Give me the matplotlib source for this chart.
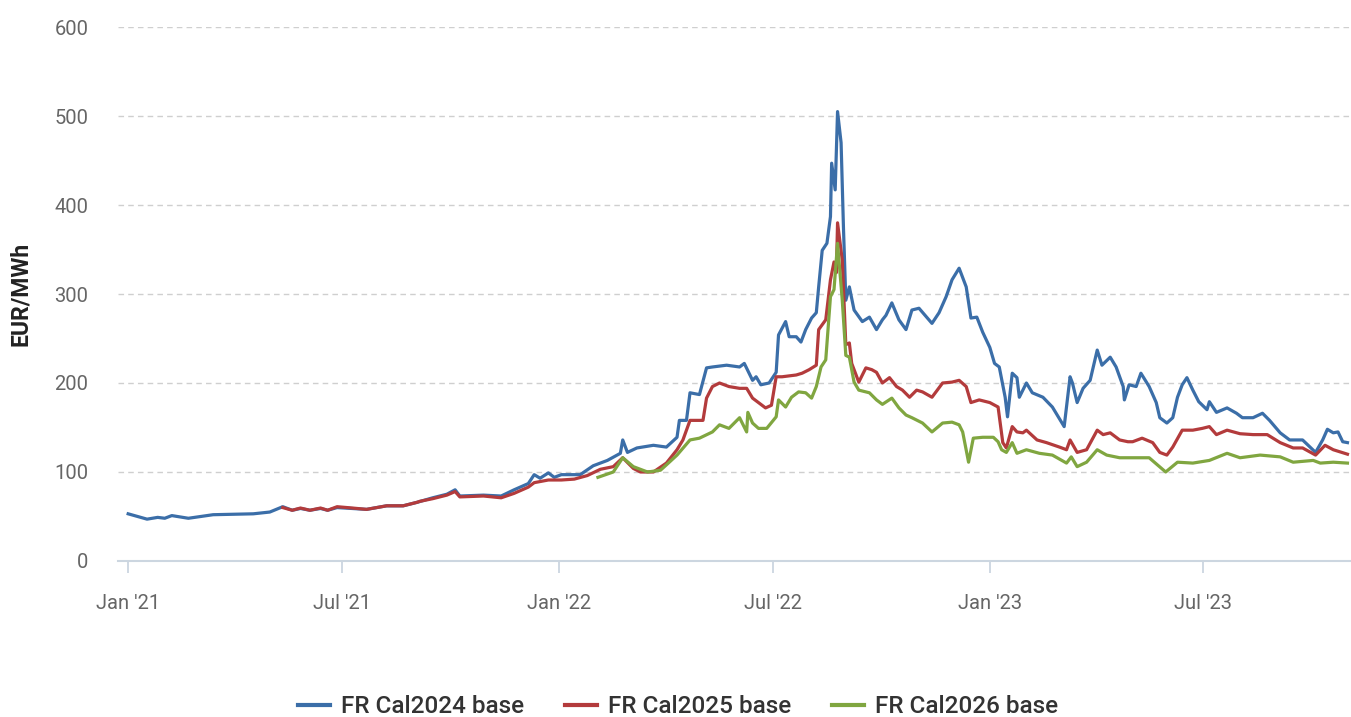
import matplotlib
matplotlib.use("Agg")
import matplotlib.pyplot as plt
import matplotlib.dates as mdates
import pandas as pd

# FR Cal2024 base (EUR/MWh)
cal24_dates = [
    "2021-01-01", "2021-01-17", "2021-01-26", "2021-02-01", "2021-02-07", "2021-02-21",
    "2021-03-09", "2021-03-14", "2021-04-17", "2021-05-01", "2021-05-12", "2021-05-20",
    "2021-05-27", "2021-06-04", "2021-06-13", "2021-06-19", "2021-06-27", "2021-07-10",
    "2021-07-22", "2021-08-08", "2021-08-22", "2021-09-03", "2021-09-16", "2021-09-28",
    "2021-10-05", "2021-10-09", "2021-10-29", "2021-11-13", "2021-11-24", "2021-12-06",
    "2021-12-11", "2021-12-16", "2021-12-23", "2021-12-28", "2022-01-03", "2022-01-19",
    "2022-01-30", "2022-02-11", "2022-02-22", "2022-02-24", "2022-02-28", "2022-03-08",
    "2022-03-22", "2022-04-02", "2022-04-11", "2022-04-13", "2022-04-19", "2022-04-22",
    "2022-04-30", "2022-05-06", "2022-05-11", "2022-05-23", "2022-06-03", "2022-06-07",
    "2022-06-11", "2022-06-14", "2022-06-17", "2022-06-21", "2022-06-28", "2022-07-04",
    "2022-07-06", "2022-07-12", "2022-07-15", "2022-07-21", "2022-07-25", "2022-07-29",
    "2022-08-03", "2022-08-07", "2022-08-09", "2022-08-12", "2022-08-16", "2022-08-19",
    "2022-08-20", "2022-08-23", "2022-08-25", "2022-08-28", "2022-08-30", "2022-09-01",
    "2022-09-04", "2022-09-08", "2022-09-15", "2022-09-21", "2022-09-27", "2022-10-02",
    "2022-10-05", "2022-10-10", "2022-10-16", "2022-10-22", "2022-10-27", "2022-11-02",
    "2022-11-13", "2022-11-19", "2022-11-25", "2022-11-30", "2022-12-06", "2022-12-12",
    "2022-12-16", "2022-12-21", "2022-12-26", "2023-01-01", "2023-01-05", "2023-01-09",
    "2023-01-14", "2023-01-16", "2023-01-20", "2023-01-24", "2023-01-26", "2023-02-01",
    "2023-02-06", "2023-02-15", "2023-02-23", "2023-03-05", "2023-03-10", "2023-03-12",
    "2023-03-16", "2023-03-21", "2023-03-27", "2023-04-02", "2023-04-06", "2023-04-13",
    "2023-04-18", "2023-04-24", "2023-04-25", "2023-04-29", "2023-05-05", "2023-05-09",
    "2023-05-16", "2023-05-22", "2023-05-25", "2023-05-31", "2023-06-05", "2023-06-09",
    "2023-06-13", "2023-06-17", "2023-06-22", "2023-06-27", "2023-07-04", "2023-07-06",
    "2023-07-12", "2023-07-21", "2023-07-29", "2023-08-03", "2023-08-12", "2023-08-20",
    "2023-08-26", "2023-09-04", "2023-09-12", "2023-09-23", "2023-10-04", "2023-10-10",
    "2023-10-14", "2023-10-19", "2023-10-23", "2023-10-27", "2023-10-31",
]
cal24_values = [
    53, 47, 49, 48, 51, 48,
    51, 52, 53, 55, 61, 57,
    59, 57, 59, 57, 60, 59,
    58, 62, 62, 66, 71, 75,
    80, 73, 74, 73, 80, 87,
    97, 93, 99, 94, 97, 97,
    107, 113, 121, 136, 122, 127,
    130, 128, 139, 158, 158, 189,
    187, 217, 218, 220, 218, 222,
    211, 203, 207, 198, 200, 212,
    254, 269, 252, 252, 246, 260,
    273, 279, 308, 349, 357, 387,
    447, 417, 505, 470, 375, 293,
    308, 282, 269, 274, 260, 271,
    276, 290, 271, 260, 282, 284,
    267, 279, 297, 316, 329, 308,
    273, 274, 257, 240, 222, 218,
    184, 162, 211, 206, 184, 200,
    189, 184, 173, 151, 207, 200,
    178, 194, 203, 237, 220, 229,
    218, 196, 181, 198, 196, 211,
    196, 178, 161, 155, 161, 184,
    198, 206, 192, 179, 170, 179,
    167, 172, 166, 161, 161, 166,
    158, 144, 136, 136, 122, 136,
    148, 144, 145, 134, 133,
]

# FR Cal2025 base (EUR/MWh)
cal25_dates = [
    "2021-05-12", "2021-05-20", "2021-05-27", "2021-06-04", "2021-06-13", "2021-06-19",
    "2021-06-27", "2021-07-10", "2021-07-22", "2021-08-08", "2021-08-22", "2021-09-03",
    "2021-09-05", "2021-09-16", "2021-09-28", "2021-10-05", "2021-10-09", "2021-10-29",
    "2021-11-13", "2021-11-24", "2021-12-06", "2021-12-11", "2021-12-23", "2022-01-03",
    "2022-01-14", "2022-01-25", "2022-02-05", "2022-02-16", "2022-02-24", "2022-03-05",
    "2022-03-11", "2022-03-22", "2022-04-02", "2022-04-11", "2022-04-16", "2022-04-22",
    "2022-05-03", "2022-05-06", "2022-05-11", "2022-05-17", "2022-05-25", "2022-06-03",
    "2022-06-09", "2022-06-14", "2022-06-19", "2022-06-25", "2022-06-30", "2022-07-04",
    "2022-07-09", "2022-07-21", "2022-07-26", "2022-08-01", "2022-08-07", "2022-08-09",
    "2022-08-15", "2022-08-19", "2022-08-22", "2022-08-24", "2022-08-25", "2022-08-29",
    "2022-09-01", "2022-09-04", "2022-09-06", "2022-09-12", "2022-09-18", "2022-09-23",
    "2022-09-27", "2022-10-02", "2022-10-08", "2022-10-14", "2022-10-19", "2022-10-25",
    "2022-10-31", "2022-11-05", "2022-11-13", "2022-11-22", "2022-11-30", "2022-12-06",
    "2022-12-12", "2022-12-16", "2022-12-23", "2023-01-01", "2023-01-08", "2023-01-12",
    "2023-01-15", "2023-01-20", "2023-01-24", "2023-01-29", "2023-02-01", "2023-02-10",
    "2023-02-18", "2023-03-01", "2023-03-07", "2023-03-10", "2023-03-16", "2023-03-24",
    "2023-04-02", "2023-04-07", "2023-04-13", "2023-04-21", "2023-04-28", "2023-05-02",
    "2023-05-10", "2023-05-19", "2023-05-25", "2023-05-31", "2023-06-05", "2023-06-13",
    "2023-06-22", "2023-06-30", "2023-07-06", "2023-07-12", "2023-07-21", "2023-08-01",
    "2023-08-12", "2023-08-24", "2023-09-04", "2023-09-15", "2023-09-23", "2023-10-04",
    "2023-10-12", "2023-10-19", "2023-10-31",
]
cal25_values = [
    60, 57, 59.5, 57, 59.5, 57,
    61, 59.5, 58, 62, 62, 66,
    67, 70, 74, 78, 72, 73,
    71, 76, 83, 88, 91, 91,
    92, 96, 103, 106, 116, 104,
    100, 100, 110, 125, 136, 158,
    158, 183, 196, 200, 196, 194,
    194, 183, 178, 172, 175, 207,
    207, 209, 211, 215, 220, 260,
    271, 316, 336, 324, 380, 338,
    243, 245, 222, 201, 217, 215,
    212, 200, 206, 196, 192, 184,
    192, 190, 184, 200, 201, 203,
    196, 178, 181, 178, 173, 133,
    127, 151, 145, 144, 147, 136,
    133, 128, 125, 136, 122, 125,
    147, 142, 144, 136, 134, 134,
    138, 133, 122, 119, 128, 147,
    147, 149, 151, 142, 147, 143,
    142, 142, 133, 127, 127, 119,
    130, 125, 120,
]

# FR Cal2026 base (EUR/MWh)
cal26_dates = [
    "2022-02-03", "2022-02-16", "2022-02-24", "2022-03-05", "2022-03-17", "2022-03-28",
    "2022-04-02", "2022-04-11", "2022-04-22", "2022-04-30", "2022-05-11", "2022-05-17",
    "2022-05-25", "2022-06-03", "2022-06-09", "2022-06-10", "2022-06-14", "2022-06-19",
    "2022-06-26", "2022-07-04", "2022-07-06", "2022-07-12", "2022-07-17", "2022-07-23",
    "2022-07-29", "2022-08-03", "2022-08-07", "2022-08-11", "2022-08-15", "2022-08-19",
    "2022-08-22", "2022-08-25", "2022-08-29", "2022-09-01", "2022-09-04", "2022-09-08",
    "2022-09-12", "2022-09-21", "2022-09-27", "2022-10-02", "2022-10-10", "2022-10-16",
    "2022-10-22", "2022-10-27", "2022-11-05", "2022-11-13", "2022-11-22", "2022-11-30",
    "2022-12-06", "2022-12-09", "2022-12-14", "2022-12-18", "2022-12-26", "2023-01-04",
    "2023-01-08", "2023-01-11", "2023-01-15", "2023-01-20", "2023-01-24", "2023-02-01",
    "2023-02-12", "2023-02-23", "2023-03-07", "2023-03-11", "2023-03-16", "2023-03-24",
    "2023-04-02", "2023-04-10", "2023-04-21", "2023-05-02", "2023-05-16", "2023-05-30",
    "2023-06-09", "2023-06-22", "2023-07-06", "2023-07-21", "2023-08-01", "2023-08-18",
    "2023-09-04", "2023-09-15", "2023-10-02", "2023-10-08", "2023-10-19", "2023-10-31",
]
cal26_values = [
    94, 100, 116, 106, 100, 102,
    108, 119, 136, 138, 145, 153,
    149, 161, 145, 167, 155, 149,
    149, 162, 181, 173, 184, 190,
    189, 183, 196, 218, 226, 297,
    305, 357, 293, 231, 229, 201,
    192, 189, 181, 176, 183, 172,
    164, 161, 155, 145, 155, 156,
    153, 145, 111, 138, 139, 139,
    134, 125, 122, 133, 121, 125,
    121, 119, 110, 117, 106, 111,
    125, 119, 116, 116, 116, 100,
    111, 110, 113, 121, 116, 119,
    117, 111, 113, 110, 111, 110,
]

series = [
    ("FR Cal2024 base", cal24_dates, cal24_values, "#3b6ea8"),
    ("FR Cal2025 base", cal25_dates, cal25_values, "#b33b3c"),
    ("FR Cal2026 base", cal26_dates, cal26_values, "#80a640"),
]

plt.rcParams["font.family"] = ["Roboto", "DejaVu Sans"]

fig = plt.figure(figsize=(13.51, 7.17), dpi=100)
ax = fig.add_axes([0.087, 0.2176, 0.913, 0.7447])

for name, d, v, c in series:
    ax.plot(pd.to_datetime(d), v, color=c, lw=2.3, label=name, solid_joinstyle="round")

ax.set_ylim(0, 600)
ax.set_yticks(range(0, 601, 100))
ax.set_xlim(pd.Timestamp("2020-12-23"), pd.Timestamp("2023-11-03"))
ax.xaxis.set_major_locator(mdates.MonthLocator(bymonth=[1, 7]))
ax.xaxis.set_major_formatter(mdates.DateFormatter("%b '%y"))

ax.grid(axis="y", color="#cfcfcf", linestyle=(0, (4, 3)), linewidth=1.0)
ax.set_axisbelow(True)
for s in ["top", "right", "left"]:
    ax.spines[s].set_visible(False)
ax.spines["bottom"].set_color("#ccd6e0")
ax.spines["bottom"].set_linewidth(1.5)

ax.tick_params(axis="y", length=0, pad=21, labelsize=14.5, labelcolor="#666666")
ax.tick_params(axis="x", length=8.5, width=1.3, color="#ccd6e0", pad=15,
               labelsize=14.5, labelcolor="#666666")

ax.set_ylabel("EUR/MWh", fontsize=16.5, fontweight="bold", color="#222222", labelpad=16)

leg = fig.legend(loc="center", bbox_to_anchor=(0.502, 0.014), ncol=3,
                 frameon=False, fontsize=17.5, handlelength=1.3, columnspacing=1.7,
                 handletextpad=0.45)
for t in leg.get_texts():
    t.set_color("#333333")
    t.set_fontweight("medium")
for h in leg.get_lines():
    h.set_linewidth(3)

fig.savefig("out.png", dpi=100)
